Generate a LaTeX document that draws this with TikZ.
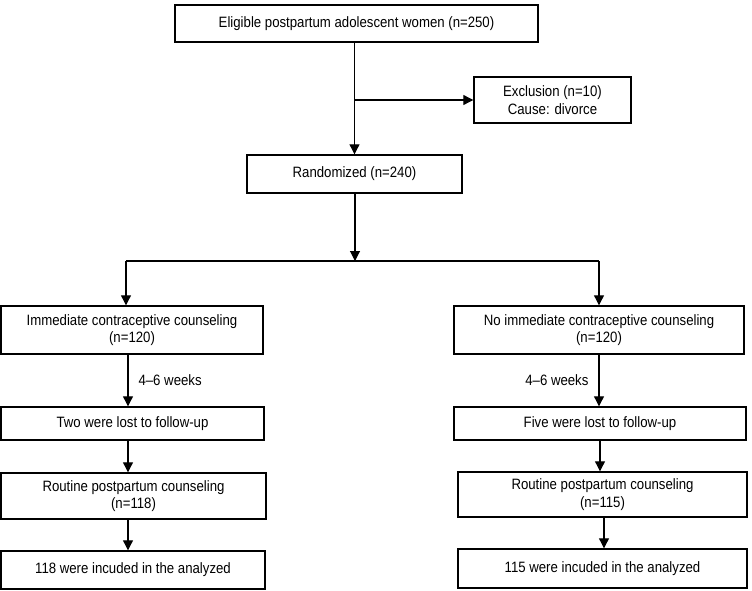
\documentclass[tikz,border=0pt]{standalone}
\usepackage{fontspec}
\setmainfont{Liberation Sans}[FakeStretch=0.88]
\usetikzlibrary{arrows.meta,calc}
\newcommand{\flowfont}{\fontsize{15}{17.3}\selectfont}
\tikzset{
    box/.style={draw,line width=1.4pt,align=center,inner sep=0pt,font=\flowfont},
    flow/.style={-{Triangle[length=10pt,width=10pt]},line width=1.1pt},
    link/.style={line width=1.1pt},
    lbl/.style={font=\flowfont,inner sep=0pt},
}

\begin{document}
\begin{tikzpicture}[x=1pt,y=-1pt]
    \useasboundingbox (0,0) rectangle (752,591);
    % enrolment and randomisation
    \node[box,minimum width=363pt,minimum height=37pt] (elig) at (356.5,23.5) {Eligible postpartum adolescent women (n=250)};
    \node[box,minimum width=157pt,minimum height=46pt] (excl) at (552.5,100) {Exclusion (n=10)\\Cause: divorce};
    \node[box,minimum width=215pt,minimum height=38pt] (rand) at (354.5,174) {Randomized (n=240)};
    % left arm
    \node[box,minimum width=262pt,minimum height=48pt] (imm) at (132,330) {Immediate contraceptive counseling\\(n=120)};
    \node[box,minimum width=263pt,minimum height=33pt] (two) at (132.5,423.5) {Two were lost to follow-up};
    \node[box,minimum width=265pt,minimum height=46pt] (rout1) at (133.5,496) {Routine postpartum counseling\\(n=118)};
    \node[box,minimum width=264pt,minimum height=38pt] (inc1) at (133,570) {118 were incuded in the analyzed};
    % right arm
    \node[box,minimum width=290pt,minimum height=48pt] (noimm) at (599,330) {No immediate contraceptive counseling\\(n=120)};
    \node[box,minimum width=292pt,minimum height=33pt] (five) at (600,423.5) {Five were lost to follow-up};
    \node[box,minimum width=289pt,minimum height=45pt] (rout2) at (602.5,494.5) {Routine postpartum counseling\\(n=115)};
    \node[box,minimum width=289pt,minimum height=39pt] (inc2) at (602.5,568.5) {115 were incuded in the analyzed};

    \coordinate (split) at (355,261);
    \coordinate (splitL) at (126,261);
    \coordinate (splitR) at (599,261);

    \draw[flow] (rand.north |- elig.south) -- (rand.north);
    \draw[flow] (rand.north |- excl.west) -- (excl.west);
    \draw[flow] (rand.south -| split) -- (split);
    \draw[link] (splitL) -- (splitR);
    \draw[flow] (splitL) -- (splitL |- imm.north);
    \draw[flow] (splitR) -- (splitR |- noimm.north);

    \draw[flow] ([xshift=2pt]splitL |- imm.south) -- node[lbl,right=10pt] {4--6 weeks} ([xshift=2pt]splitL |- two.north);
    \draw[flow] ([xshift=2pt]splitL |- two.south) -- ([xshift=2pt]splitL |- rout1.north);
    \draw[flow] ([xshift=2pt]splitL |- rout1.south) -- ([xshift=2pt]splitL |- inc1.north);
    \draw[flow] (splitR |- noimm.south) -- node[lbl,left=10pt] {4--6 weeks} (splitR |- five.north);
    \draw[flow] ([xshift=1pt]splitR |- five.south) -- ([xshift=1pt]splitR |- rout2.north);
    \draw[flow] ([xshift=5pt]splitR |- rout2.south) -- ([xshift=5pt]splitR |- inc2.north);
\end{tikzpicture}
\end{document}
